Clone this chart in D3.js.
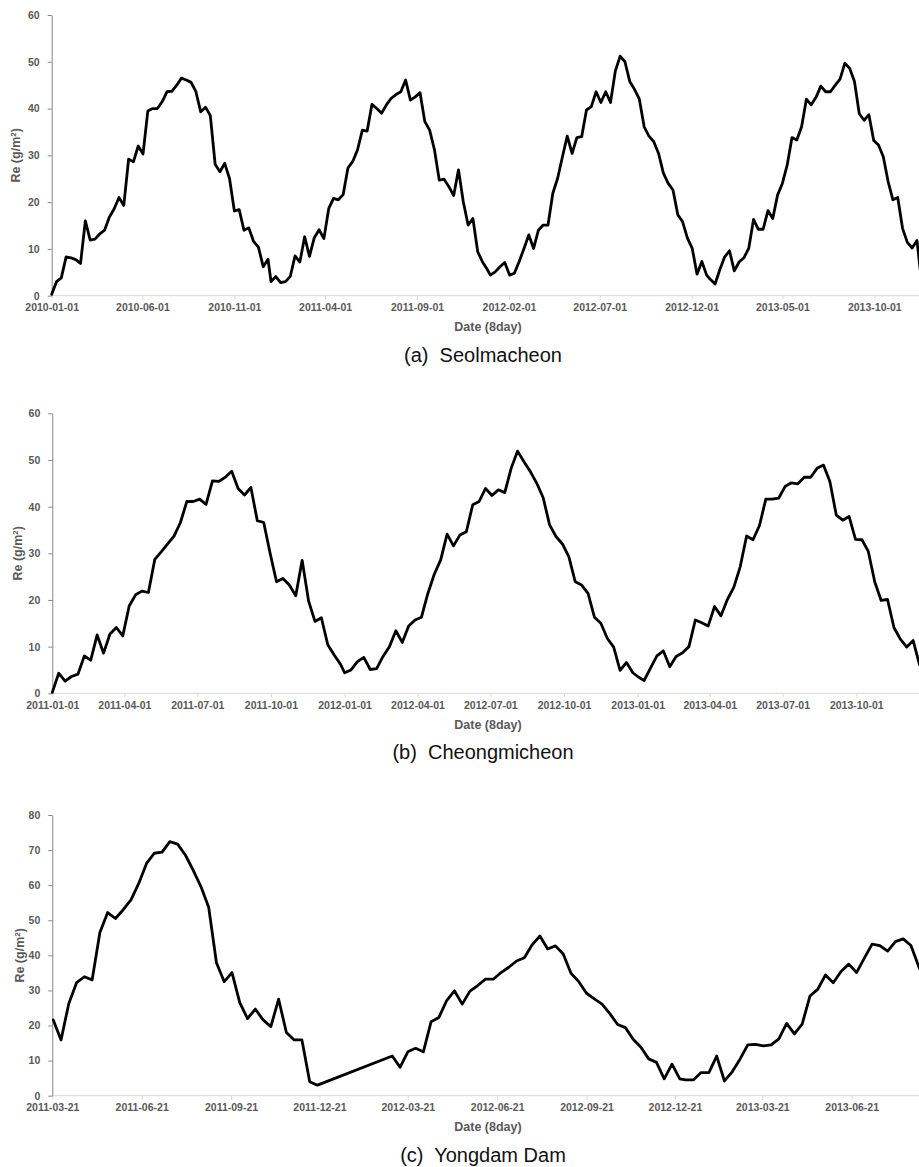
<!DOCTYPE html>
<html>
<head>
<meta charset="utf-8">
<script src="https://cdn.jsdelivr.net/npm/d3@7"></script>
<style>
  html, body { margin: 0; padding: 0; background: #fff; }
  svg { display: block; }
  text { font-family: "Liberation Sans", Arial, sans-serif; }
</style>
</head>
<body>
<svg id="chart" width="919" height="1167"></svg>
<script>
// ---- Effective rainfall Re (g/m²), 8-day composites ----

// Seolmacheon, 2010–2013 (composites starting DOY 1, 9, ..., 361)
const seol2010 = [0.3, 3.0, 3.8, 8.3, 8.1, 7.7, 6.9, 16.0, 11.9, 12.1, 13.2, 14.0, 16.8, 18.6, 21.0, 19.3, 29.2, 28.6, 32.0, 30.3, 39.5, 40.0, 40.0, 41.5, 43.6, 43.7, 45.0, 46.5, 46.1, 45.6, 43.6, 39.3, 40.3, 38.5, 28.1, 26.5, 28.3, 25.0, 18.1, 18.4, 14.0, 14.5, 11.6, 10.4, 6.2, 7.8];
const seol2011 = [3.0, 4.1, 2.8, 3.0, 4.1, 8.5, 7.2, 12.6, 8.4, 12.4, 14.1, 12.2, 18.6, 20.8, 20.5, 21.6, 27.3, 28.7, 31.2, 35.4, 35.2, 40.9, 40.0, 39.0, 40.8, 42.2, 43.0, 43.6, 46.1, 41.8, 42.5, 43.4, 37.2, 35.4, 31.2, 24.7, 24.9, 23.3, 21.4, 26.9, 20.1, 15.1, 16.5, 9.4, 7.2, 5.6];
const seol2012 = [4.4, 5.1, 6.2, 7.1, 4.4, 4.8, 7.3, 10.1, 13.0, 10.1, 14.0, 15.1, 15.1, 21.9, 25.1, 29.7, 34.1, 30.4, 33.8, 34.0, 39.7, 40.4, 43.6, 41.3, 43.6, 41.3, 48.0, 51.2, 50.0, 45.8, 44.1, 42.0, 36.1, 34.1, 32.9, 30.4, 26.2, 24.0, 22.6, 17.3, 15.8, 12.3, 10.1, 4.6, 7.3, 4.4];
const seol2013 = [3.5, 2.5, 5.6, 8.3, 9.6, 5.3, 7.2, 8.1, 10.1, 16.3, 14.2, 14.2, 18.2, 16.5, 21.5, 24.0, 27.9, 33.8, 33.3, 36.1, 42.0, 40.8, 42.4, 44.8, 43.6, 43.6, 45.0, 46.3, 49.7, 48.6, 45.8, 38.9, 37.5, 38.7, 33.2, 32.2, 29.7, 24.4, 20.5, 21.0, 14.4, 11.4, 10.2, 11.8, 2.5, 2.0];

// Cheongmicheon, 2011–2013
const cheong2011 = [0.2, 4.3, 2.6, 3.6, 4.1, 8.0, 7.1, 12.5, 8.6, 12.7, 14.1, 12.3, 18.7, 21.1, 21.9, 21.6, 28.7, 30.3, 32.0, 33.7, 36.6, 41.1, 41.1, 41.6, 40.5, 45.5, 45.4, 46.3, 47.6, 43.9, 42.5, 44.1, 37.0, 36.6, 30.0, 23.9, 24.6, 23.2, 20.9, 28.5, 19.8, 15.4, 16.2, 10.4, 8.2, 6.2];
const cheong2012 = [4.4, 5.0, 6.8, 7.7, 5.1, 5.3, 7.9, 10.0, 13.4, 10.9, 14.4, 15.7, 16.3, 21.4, 25.5, 28.6, 34.1, 31.6, 33.9, 34.6, 40.4, 41.1, 43.9, 42.4, 43.6, 43.0, 48.2, 51.9, 49.6, 47.5, 45.0, 41.9, 36.1, 33.6, 32.0, 29.3, 23.9, 23.2, 21.4, 16.3, 15.0, 11.8, 9.9, 4.9, 6.6, 4.4];
const cheong2013 = [3.6, 2.7, 5.4, 8.0, 9.1, 5.7, 7.9, 8.7, 10.0, 15.7, 15.1, 14.4, 18.6, 16.6, 20.1, 22.7, 27.1, 33.7, 32.9, 35.9, 41.6, 41.6, 41.8, 44.3, 45.1, 44.9, 46.3, 46.3, 48.2, 48.9, 45.4, 38.2, 37.1, 37.9, 33.0, 32.9, 30.4, 23.9, 19.9, 20.1, 14.1, 11.6, 9.9, 11.3, 6.1, 4.5];

// Yongdam Dam: 2011 from DOY 81 to 353, 2012 from DOY 65, 2013 from DOY 1 (winter gap left open)
const yong2011 = [21.6, 15.9, 26.3, 32.2, 33.9, 33.0, 46.5, 52.2, 50.5, 53.0, 55.8, 60.5, 66.2, 69.1, 69.4, 72.4, 71.7, 68.6, 64.3, 59.6, 53.7, 37.9, 32.5, 35.1, 26.5, 22.0, 24.7, 21.6, 19.7, 27.5, 18.0, 15.9, 15.9, 4.0, 3.0];
const yong2012 = [11.3, 8.1, 12.5, 13.5, 12.5, 21.1, 22.3, 27.1, 29.9, 26.1, 29.8, 31.4, 33.2, 33.2, 35.1, 36.6, 38.4, 39.3, 43.0, 45.5, 41.8, 42.7, 40.4, 34.9, 32.5, 29.2, 27.6, 26.1, 23.4, 20.3, 19.4, 16.1, 13.8, 10.5, 9.5, 4.8, 9.0, 4.8];
const yong2013 = [4.5, 4.5, 6.6, 6.6, 11.3, 4.2, 6.8, 10.4, 14.5, 14.6, 14.2, 14.5, 16.2, 20.6, 17.6, 20.4, 28.4, 30.3, 34.4, 32.2, 35.4, 37.5, 35.1, 39.2, 43.2, 42.8, 41.2, 43.9, 44.7, 42.8, 36.8, 32.0];

// Axis tick labels
const seolTicks   = ["2010-01-01", "2010-06-01", "2010-11-01", "2011-04-01", "2011-09-01", "2012-02-01", "2012-07-01", "2012-12-01", "2013-05-01", "2013-10-01"];
const cheongTicks = ["2011-01-01", "2011-04-01", "2011-07-01", "2011-10-01", "2012-01-01", "2012-04-01", "2012-07-01", "2012-10-01", "2013-01-01", "2013-04-01", "2013-07-01", "2013-10-01"];
const yongTicks   = ["2011-03-21", "2011-06-21", "2011-09-21", "2011-12-21", "2012-03-21", "2012-06-21", "2012-09-21", "2012-12-21", "2013-03-21", "2013-06-21"];
const reTicks60 = [0, 10, 20, 30, 40, 50, 60];
const reTicks80 = [0, 10, 20, 30, 40, 50, 60, 70, 80];

// Start dates of 8-day composites within a year
function composite(year, firstDoy, count) {
  return d3.range(count).map(i => new Date(Date.UTC(year, 0, firstDoy + 8 * i)));
}
function series(parts) {
  const out = [];
  parts.forEach(([dates, vals]) => vals.forEach((v, i) => out.push({ date: dates[i], value: v })));
  return out;
}

const seolData = series([
  [composite(2010, 1, 46), seol2010], [composite(2011, 1, 46), seol2011],
  [composite(2012, 1, 46), seol2012], [composite(2013, 1, 46), seol2013]
]);
const cheongData = series([
  [composite(2011, 1, 46), cheong2011], [composite(2012, 1, 46), cheong2012],
  [composite(2013, 1, 46), cheong2013]
]);
const yongData = series([
  [composite(2011, 81, 35), yong2011], [composite(2012, 65, 38), yong2012],
  [composite(2013, 1, 32), yong2013]
]);

const parseDay = d3.utcParse("%Y-%m-%d");
const fmtDay = d3.utcFormat("%Y-%m-%d");

const W = 919;
const svg = d3.select("#chart");
svg.append("rect").attr("width", W).attr("height", 1167).attr("fill", "#fff");

const panels = [
  { data: seolData, ticks: seolTicks, yTicks: reTicks60, yMax: 60,
    left: 51.7, tickEndX: 874.3, top: 15.0, zero: 295.7, titleX: 15.5,
    caption: "(a)  Seolmacheon" },
  { data: cheongData, ticks: cheongTicks, yTicks: reTicks60, yMax: 60,
    left: 52.3, tickEndX: 856.3, top: 413.3, zero: 693.3, titleX: 17.5,
    caption: "(b)  Cheongmicheon" },
  { data: yongData, ticks: yongTicks, yTicks: reTicks80, yMax: 80,
    left: 52.3, tickEndX: 851.7, top: 815.0, zero: 1095.7, titleX: 19.5,
    caption: "(c)  Yongdam Dam" }
];

const labelColor = "#595959";

panels.forEach(p => {
  const tickDates = p.ticks.map(parseDay);
  const x = d3.scaleUtc()
    .domain([tickDates[0], tickDates[tickDates.length - 1]])
    .range([p.left, p.tickEndX]);
  const y = d3.scaleLinear().domain([0, p.yMax]).range([p.zero, p.top]);

  const g = svg.append("g");

  // horizontal axis: light baseline across to the right edge
  g.append("line")
    .attr("x1", p.left).attr("x2", W)
    .attr("y1", p.zero).attr("y2", p.zero)
    .attr("stroke", "#d9d9d9").attr("stroke-width", 1);

  const xAxis = g.append("g")
    .attr("transform", `translate(0,${p.zero})`)
    .call(d3.axisBottom(x).tickValues(tickDates).tickFormat(fmtDay)
      .tickSize(4).tickSizeOuter(0).tickPadding(4));
  xAxis.select(".domain").remove();
  xAxis.selectAll(".tick line").attr("stroke", "#d9d9d9");
  xAxis.selectAll(".tick text")
    .attr("fill", labelColor)
    .style("font-size", "10.5px").style("font-weight", "bold");

  // vertical axis
  const yAxis = g.append("g")
    .attr("transform", `translate(${p.left},0)`)
    .call(d3.axisLeft(y).tickValues(p.yTicks).tickSize(4).tickSizeOuter(0).tickPadding(8));
  yAxis.select(".domain").attr("stroke", "#868686");
  yAxis.selectAll(".tick line").attr("stroke", "#868686");
  yAxis.selectAll(".tick text")
    .attr("fill", labelColor)
    .style("font-size", "10.5px").style("font-weight", "bold");

  // axis titles
  const yt = g.append("text")
    .attr("transform", `translate(${p.titleX + 4.5},${(p.top + p.zero) / 2}) rotate(-90)`)
    .attr("text-anchor", "middle")
    .attr("fill", labelColor)
    .style("font-size", "12.5px").style("font-weight", "bold");
  yt.append("tspan").text("Re (g/m");
  yt.append("tspan").text("2").attr("dy", -4).style("font-size", "8px");
  yt.append("tspan").text(")").attr("dy", 4);

  g.append("text")
    .attr("x", 488).attr("y", p.zero + 35.2)
    .attr("text-anchor", "middle")
    .attr("fill", labelColor)
    .style("font-size", "12.5px").style("font-weight", "bold")
    .text("Date (8day)");

  // series line
  const line = d3.line()
    .x(d => x(d.date))
    .y(d => y(d.value));
  g.append("path")
    .datum(p.data)
    .attr("d", line)
    .attr("fill", "none")
    .attr("stroke", "#000")
    .attr("stroke-width", 2.8)
    .attr("stroke-linejoin", "round")
    .attr("stroke-linecap", "round");

  // panel caption
  g.append("text")
    .attr("x", 483).attr("y", p.zero + 66)
    .attr("text-anchor", "middle")
    .attr("fill", "#111")
    .style("font-size", "20px")
    .style("white-space", "pre")
    .attr("xml:space", "preserve")
    .text(p.caption);
});
</script>
</body>
</html>
